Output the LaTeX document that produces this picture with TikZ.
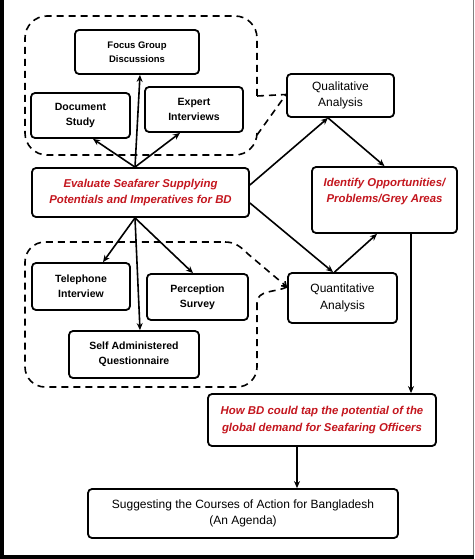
\documentclass[tikz,border=0pt]{standalone}
\usepackage{fontspec}
\setmainfont{Liberation Sans}
\usetikzlibrary{arrows.meta,calc}
\definecolor{myred}{RGB}{196,22,30}
\begin{document}
\begin{tikzpicture}[x=1pt,y=-1pt,
  box/.style={draw, line width=1.8pt, rounded corners=4pt, align=center, inner sep=0pt,
    font=\bfseries\fontsize{10.5}{15}\selectfont},
  plain/.style={box, font=\fontsize{12}{16.5}\selectfont},
  redbox/.style={box, text=myred, font=\bfseries\itshape\fontsize{11.4}{16.5}\selectfont},
  arr/.style={-{Stealth[length=7pt,width=6pt]}, line width=1.6pt},
  dline/.style={dash pattern=on 7pt off 5pt, line width=1.6pt},
  dtip/.style={dline, -{Straight Barb[length=4pt,width=6pt]}}]
\useasboundingbox (0,0) rectangle (474,559);
\fill[white] (0,0) rectangle (474,559);
\fill[black] (0,0) rectangle (4,559);
\fill[black] (0,555) rectangle (474,559);
\draw[gray, line width=0.6pt] (473.5,0) -- (473.5,555);

% nodes
\node[box, font=\bfseries\fontsize{9.5}{14}\selectfont, minimum width=124, minimum height=44] (focus) at (137,52) {Focus Group\\Discussions};
\node[box, minimum width=99, minimum height=45] (doc) at (80.5,115.5) {Document\\Study};
\node[box, minimum width=98, minimum height=45] (expert) at (194,109.5) {Expert\\Interviews};
\node[plain, minimum width=107, minimum height=43] (qual) at (340.5,95.5) {Qualitative\\Analysis};
\node[redbox, minimum width=217, minimum height=49] (eval) at (140.5,192.5) {Evaluate Seafarer Supplying\\Potentials and Imperatives for BD};
\node[box, minimum width=145, minimum height=66] (ident) at (384.5,200) {};
\node[redbox, draw=none] (identtxt) at (384.5,191.5) {Identify Opportunities/\\Problems/Grey Areas};
\node[box, minimum width=98, minimum height=47] (tel) at (81,286.5) {Telephone\\Interview};
\node[box, minimum width=101, minimum height=46] (perc) at (197.5,297) {Perception\\Survey};
\node[box, minimum width=130, minimum height=47] (self) at (134,354.5) {Self Administered\\Questionnaire};
\node[plain, minimum width=109, minimum height=50] (quant) at (342.5,298) {Quantitative\\Analysis};
\node[redbox, minimum width=228, minimum height=52] (how) at (322,420) {How BD could tap the potential of the\\global demand for Seafaring Officers};
\node[plain, minimum width=310, minimum height=49] (sugg) at (243,513.5) {Suggesting the Courses of Action for Bangladesh\\(An Agenda)};

% upper dashed group
\coordinate (ua) at (257,96);
\coordinate (ub) at (257,135);
\draw[dline, rounded corners=22pt] (ua) -- (257,16) -- (25,16) -- (25,155) -- (257,155) -- (ub);
\draw[dline] (ua) -- ([yshift=1]qual.west) -- (ub);

% lower dashed group
\coordinate (lc) at (257,303);
\coordinate (ltip) at ([yshift=11]quant.west);
\draw[dline, rounded corners=20pt] (lc) -- (257,387) -- (25,387) -- (25,242) -- (225,242);
\draw[dtip] (225,242) to[out=0,in=135] (248,254) -- (ltip);
\draw[dline] (ltip) to[out=205,in=90] (lc);

% arrows upper
\draw[arr] ([xshift=-5.5]eval.north) -- ([xshift=12.5]doc.south);
\draw[arr] ([xshift=-5.5]eval.north) -- ([xshift=3]focus.south);
\draw[arr] ([xshift=-5.5]eval.north) -- ([xshift=-14]expert.south);
% arrows lower
\draw[arr] ([xshift=-5.5]eval.south) -- ([xshift=22]tel.north);
\draw[arr] ([xshift=-5.5]eval.south) -- ([xshift=-4.5]perc.north);
\draw[arr] ([xshift=-5.5]eval.south) -- ([xshift=6]self.north);
% right side
\draw[arr] ([yshift=7.5]eval.east) -- ([xshift=-12.5]qual.south);
\draw[arr] ([yshift=-10.5]eval.east) -- ([xshift=-9.5]quant.north);
\draw[arr] ([xshift=-12.5]qual.south) -- (ident.north);
\draw[arr] ([xshift=-8]quant.north) -- ([xshift=-7.5]ident.south);
\draw[arr] ([xshift=26.5]ident.south) -- ([xshift=89]how.north);
\draw[arr] ([xshift=-25]how.south) -- ([xshift=54]sugg.north);
\end{tikzpicture}
\end{document}
